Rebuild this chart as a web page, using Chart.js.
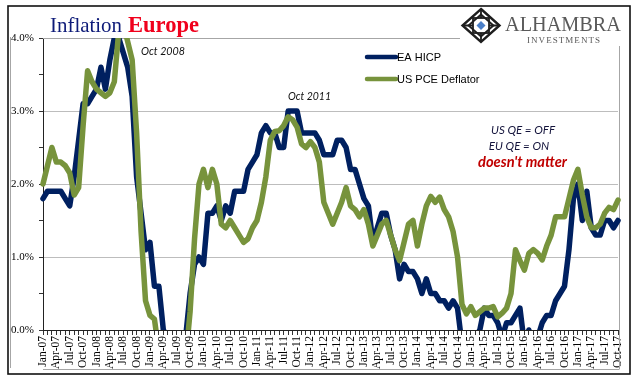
<!DOCTYPE html>
<html>
<head>
<meta charset="utf-8">
<script src="https://cdn.jsdelivr.net/npm/chart.js@4.4.1/dist/chart.umd.min.js"></script>
<style>
  html, body { margin: 0; padding: 0; background: #fff; }
  #wrap { width: 641px; height: 381px; }
</style>
</head>
<body>
<div id="wrap"><canvas id="chart" width="641" height="381"></canvas></div>
<script>
// month labels Jan-07 .. Oct-17
const monthNames = ['Jan', 'Feb', 'Mar', 'Apr', 'May', 'Jun', 'Jul', 'Aug', 'Sep', 'Oct', 'Nov', 'Dec'];
const yearNames = ['07', '08', '09', '10', '11', '12', '13', '14', '15', '16', '17'];
const labels = [];
yearNames.forEach(y => monthNames.forEach(m => labels.push(m + '-' + y)));
labels.length = 130;

// EA HICP, % y/y
const eaHicp = [
  1.8, 1.9, 1.9, 1.9, 1.9, 1.8, 1.7, 2.1, 2.6, 3.1, 3.1,
  3.2, 3.3, 3.6, 3.3, 3.7, 4.0, 4.0, 3.8, 3.6, 3.2, 2.1, 1.6,
  1.1, 1.2, 0.6, 0.6, 0.0, -0.1, -0.6, -0.2, -0.3, -0.1, 0.5, 0.9,
  1.0, 0.9, 1.6, 1.6, 1.7, 1.5, 1.7, 1.6, 1.9, 1.9, 1.9, 2.2,
  2.3, 2.4, 2.7, 2.8, 2.7, 2.7, 2.5, 2.5, 3.0, 3.0, 3.0, 2.7,
  2.7, 2.7, 2.7, 2.6, 2.4, 2.4, 2.4, 2.6, 2.6, 2.5, 2.2, 2.2,
  2.0, 1.8, 1.7, 1.2, 1.4, 1.6, 1.6, 1.3, 1.1, 0.7, 0.9, 0.8,
  0.8, 0.7, 0.5, 0.7, 0.5, 0.5, 0.4, 0.4, 0.3, 0.4, 0.3, -0.2,
  -0.6, -0.3, -0.1, 0.0, 0.3, 0.2, 0.2, 0.1, -0.1, 0.1, 0.1, 0.2,
  0.3, -0.2, 0.0, -0.2, -0.1, 0.1, 0.2, 0.2, 0.4, 0.5, 0.6, 1.1,
  1.8, 2.0, 1.5, 1.9, 1.4, 1.3, 1.3, 1.5, 1.5, 1.4, 1.5
];

// US PCE Deflator, % y/y
const usPce = [
  2.0, 2.25, 2.5, 2.3, 2.3, 2.25, 2.15, 1.85, 1.95, 2.8, 3.55, 3.4,
  3.3, 3.25, 3.2, 3.25, 3.4, 4.1, 4.2, 3.95, 3.7, 2.7, 1.35, 0.4,
  0.2, 0.15, -0.3, -0.6, -0.8, -1.2, -0.9, -0.7, -0.4, 0.25, 1.25, 2.0,
  2.2, 1.95, 2.2, 2.0, 1.45, 1.4, 1.5, 1.4, 1.3, 1.2, 1.25, 1.4,
  1.5, 1.75, 2.1, 2.6, 2.72, 2.73, 2.8, 2.92, 2.88, 2.78, 2.55, 2.5,
  2.58, 2.5, 2.3, 1.75, 1.6, 1.45, 1.6, 1.75, 1.95, 1.7, 1.65, 1.55,
  1.65, 1.45, 1.15, 1.3, 1.45, 1.5, 1.3, 1.1, 0.95, 1.2, 1.45, 1.5,
  1.15, 1.45, 1.7, 1.83, 1.75, 1.82, 1.65, 1.55, 1.35, 1.0, 0.35, 0.22,
  0.32, 0.2, 0.25, 0.3, 0.3, 0.32, 0.18, 0.23, 0.3, 0.5, 1.1, 0.95,
  0.82, 1.05, 1.1, 1.05, 0.96, 1.15, 1.3, 1.55, 1.55, 1.55, 1.8, 2.05,
  2.2, 1.85, 1.55, 1.4, 1.4, 1.45, 1.6, 1.68, 1.65, 1.78
];

const BLUE = '#002060';
const GREEN = '#77933c';

// draw text scaled so it spans the given width
function fitText(ctx, text, style, family, width, x, y, color) {
  ctx.font = style + ' 20px ' + family;
  const size = 20 * width / ctx.measureText(text).width;
  ctx.font = style + ' ' + size.toFixed(2) + 'px ' + family;
  ctx.fillStyle = color;
  ctx.textAlign = 'left';
  ctx.textBaseline = 'alphabetic';
  ctx.fillText(text, x, y);
}

function spacedText(ctx, text, font, x0, x1, y, color) {
  ctx.font = font;
  ctx.fillStyle = color;
  ctx.textAlign = 'left';
  const widths = [...text].map(c => ctx.measureText(c).width);
  const total = widths.reduce((s, w) => s + w, 0);
  const gap = (x1 - x0 - total) / (text.length - 1);
  let x = x0;
  [...text].forEach((c, i) => { ctx.fillText(c, x, y); x += widths[i] + gap; });
}

function diamond(ctx, rx, ry) {
  ctx.beginPath();
  ctx.moveTo(0, -ry); ctx.lineTo(rx, 0); ctx.lineTo(0, ry); ctx.lineTo(-rx, 0);
  ctx.closePath();
}

function drawLogo(ctx, cx, cy) {
  ctx.save();
  ctx.translate(cx, cy);
  ctx.strokeStyle = '#1e1e1e';
  ctx.lineWidth = 2.4;
  diamond(ctx, 18.5, 16.5); ctx.stroke();
  ctx.lineWidth = 1.8;
  diamond(ctx, 12.5, 11); ctx.stroke();
  ctx.strokeRect(-8, -7.5, 16, 15);
  ctx.beginPath();
  ctx.moveTo(-18, 0); ctx.lineTo(-8, 0); ctx.moveTo(8, 0); ctx.lineTo(18, 0);
  ctx.moveTo(0, -16); ctx.lineTo(0, -7.5); ctx.moveTo(0, 7.5); ctx.lineTo(0, 16);
  ctx.stroke();
  ctx.fillStyle = '#4a7fc8';
  diamond(ctx, 4.5, 4.5); ctx.fill();
  ctx.restore();
}

const decor = {
  id: 'decor',
  beforeDatasetsDraw(chart) {
    const ctx = chart.ctx;
    const a = chart.chartArea;
    ctx.save();
    ctx.strokeStyle = '#a6a6a6';
    ctx.lineWidth = 1;
    ctx.beginPath();
    ctx.moveTo(a.left, a.top + 0.5); ctx.lineTo(460, a.top + 0.5);
    ctx.moveTo(619.5, 46); ctx.lineTo(619.5, 369);
    ctx.moveTo(a.left, 369.5); ctx.lineTo(619.5, 369.5);
    ctx.moveTo(10.5, 37); ctx.lineTo(10.5, 368);
    ctx.stroke();
    ctx.restore();
  },
  afterDraw(chart) {
    const ctx = chart.ctx;
    ctx.save();
    // outer frame
    ctx.strokeStyle = '#111';
    ctx.lineWidth = 1.6;
    ctx.strokeRect(8, 6, 622, 368);

    // title
    fitText(ctx, 'Inflation', 'normal', '"Liberation Serif"', 72, 50, 32, '#0d1a78');
    fitText(ctx, 'Europe', 'bold', '"Liberation Serif"', 71, 128, 32, '#f0001c');

    // logo
    drawLogo(ctx, 481, 25.5);
    fitText(ctx, 'ALHAMBRA', 'normal', '"Liberation Serif"', 116, 505, 31, '#595959');
    spacedText(ctx, 'INVESTMENTS', '9px "Liberation Serif"', 527, 600, 42.5, '#595959');

    // legend
    ctx.lineCap = 'round';
    ctx.lineWidth = 4.5;
    ctx.strokeStyle = BLUE;
    ctx.beginPath(); ctx.moveTo(367, 57); ctx.lineTo(396, 57); ctx.stroke();
    ctx.strokeStyle = GREEN;
    ctx.beginPath(); ctx.moveTo(367, 79); ctx.lineTo(396, 79); ctx.stroke();
    ctx.font = '11px "Liberation Sans"';
    ctx.fillStyle = '#000';
    ctx.textAlign = 'left';
    ctx.fillText('EA HICP', 397, 61);
    ctx.fillText('US PCE Deflator', 397, 83);

    // notes
    fitText(ctx, 'Oct 2008', 'italic', 'Lato', 44, 141, 55, '#111');
    fitText(ctx, 'Oct 2011', 'italic', 'Lato', 43, 288, 100, '#111');
    ctx.font = 'italic 11.5px Lato';
    ctx.fillStyle = '#14143c';
    ctx.textAlign = 'center';
    ctx.fillText('US QE = OFF', 523, 134);
    ctx.fillText('EU QE = ON', 519, 150);
    fitText(ctx, "doesn't matter", 'bold italic', 'Lato', 89, 478, 167, '#c00000');
    ctx.restore();
  }
};

const lineStyle = {
  pointRadius: 0,
  borderWidth: 5.5,
  tension: 0,
  fill: false,
  borderJoinStyle: 'round',
  borderCapStyle: 'round',
  clip: { left: 6, right: 6, top: 0, bottom: 0 }
};

new Chart(document.getElementById('chart'), {
  type: 'line',
  data: {
    labels: labels,
    datasets: [
      Object.assign({ label: 'EA HICP', data: eaHicp, borderColor: BLUE, order: 1 }, lineStyle),
      Object.assign({ label: 'US PCE Deflator', data: usPce, borderColor: GREEN, order: 0 }, lineStyle)
    ]
  },
  options: {
    responsive: false,
    animation: false,
    layout: { padding: { left: 0, right: 23, top: 38, bottom: 0 } },
    plugins: { legend: { display: false }, tooltip: { enabled: false } },
    scales: {
      x: {
        ticks: {
          autoSkip: false,
          maxRotation: 90,
          minRotation: 90,
          padding: 1,
          color: '#000',
          font: { family: '"Liberation Serif"', size: 11.5 },
          callback: (v, i) => (i % 3 === 0 ? labels[i] : '')
        },
        grid: { drawOnChartArea: false, tickLength: 5, color: '#333' },
        border: { color: '#222', width: 1 },
        afterFit: s => { s.height = 51; }
      },
      y: {
        min: 0,
        max: 4,
        ticks: {
          stepSize: 0.5,
          padding: 5,
          color: '#000',
          font: { family: '"Liberation Serif"', size: 11 },
          callback: v => (v % 1 === 0 ? v.toFixed(1) + '%' : '')
        },
        grid: {
          color: c => (c.tick && c.tick.value % 1 === 0 && c.tick.value > 0 && c.tick.value < 4) ? '#bdbdbd' : 'rgba(0,0,0,0)',
          tickColor: '#333',
          tickLength: 4,
          borderDash: [3, 2],
          tickBorderDash: []
        },
        border: { color: '#222', width: 1 },
        afterFit: s => { s.width = 43; }
      }
    }
  },
  plugins: [decor]
});
</script>
</body>
</html>
